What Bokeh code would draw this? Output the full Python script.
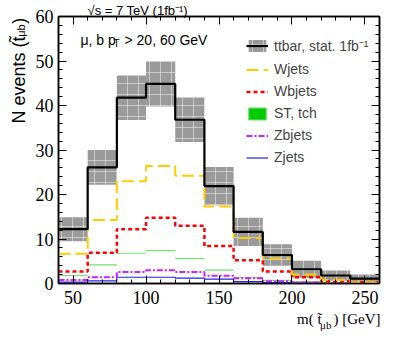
import numpy as np
from bokeh.plotting import figure
from bokeh.models import (ColumnDataSource, Range1d, LinearAxis, Label, Legend,
                          LegendItem, SingleIntervalTicker, CustomJSTickFormatter)
from bokeh.embed import file_html
from bokeh.resources import INLINE

# ---------------- data ----------------
bin_edges = [40, 60, 80, 100, 120, 140, 160, 180, 200, 220, 240, 260]
ttbar     = [12.2, 26.1, 41.75, 44.85, 36.8, 21.9, 11.6, 6.4, 3.2, 1.8, 1.1]
ttbar_err = [2.7, 3.9, 5.0, 5.1, 5.0, 4.3, 3.2, 2.4, 1.9, 1.2, 0.9]
wjets     = [6.7, 14.25, 23.0, 26.4, 24.2, 17.3, 10.2, 5.6, 2.0, 0.8, 0.3]
wbjets    = [2.7, 6.9, 12.2, 14.8, 13.0, 8.4, 5.2, 2.7, 1.4, 0.5, 0.3]
st_tch    = [1.8, 4.2, 6.8, 7.4, 5.6, 3.0, 1.4, 0.7, 0.4, 0.2, 0.1]
zbjets    = [0.8, 1.4, 2.6, 2.95, 2.6, 1.75, 1.2, 0.5, 0.2, 0.1, 0.05]
zjets     = [0.3, 0.6, 1.4, 1.4, 1.2, 1.0, 0.4, 0.2, 0.1, 0.05, 0.0]

legend_labels = ["ttbar, stat. 1fb\u207b\u00b9", "Wjets", "Wbjets", "ST, tch", "Zbjets", "Zjets"]

# ---------------- figure ----------------
p = figure(width=399, height=337, x_range=Range1d(40, 260), y_range=Range1d(0, 60),
           output_backend="svg", toolbar_location=None,
           min_border_left=56, min_border_right=20, min_border_top=16, min_border_bottom=54)
p.xgrid.visible = False
p.ygrid.visible = False
p.outline_line_color = "black"
p.outline_line_width = 1.5
p.background_fill_color = "white"
p.border_fill_color = "white"

def style_axis(ax, interval, show_labels=True):
    ax.ticker = SingleIntervalTicker(interval=interval, num_minor_ticks=5)
    ax.major_tick_in = 8
    ax.major_tick_out = 0
    ax.minor_tick_in = 4
    ax.minor_tick_out = 0
    ax.axis_line_width = 1.5
    ax.axis_line_color = "black"
    ax.major_tick_line_color = "black"
    ax.minor_tick_line_color = "black"
    ax.major_tick_line_width = 1
    ax.minor_tick_line_width = 1
    if show_labels:
        ax.major_label_text_font = "Liberation Serif"
        ax.major_label_text_font_size = "18px"
        ax.major_label_text_color = "black"
    else:
        ax.formatter = CustomJSTickFormatter(code="return ''")
        ax.major_label_text_font_size = "1px"
        ax.major_label_standoff = 0

style_axis(p.xaxis[0], 50)
p.xaxis[0].major_label_standoff = 7
style_axis(p.yaxis[0], 10)
p.yaxis[0].major_label_standoff = 5

top_ax = LinearAxis()
style_axis(top_ax, 50, show_labels=False)
p.add_layout(top_ax, "above")
right_ax = LinearAxis()
style_axis(right_ax, 10, show_labels=False)
p.add_layout(right_ax, "right")

# ---------------- glyphs ----------------
edges = np.array(bin_edges, dtype=float)
left, right = edges[:-1], edges[1:]

def step_y(vals):
    return list(vals) + [vals[-1]]

band_src = ColumnDataSource(dict(left=left, right=right,
                                 bottom=np.array(ttbar) - np.array(ttbar_err),
                                 top=np.array(ttbar) + np.array(ttbar_err)))
band = p.quad(left="left", right="right", bottom="bottom", top="top", source=band_src,
              fill_color="#9a9a9a", line_color=None,
              hatch_pattern="+", hatch_color="white", hatch_alpha=0.45,
              hatch_scale=11, hatch_weight=1)

# ST, tch: horizontal bin levels only (no vertical connectors)
st_src = ColumnDataSource(dict(left=left, right=right, v=st_tch))
r_st = p.quad(left="left", right="right", bottom="v", top="v", source=st_src,
              fill_color="#00cc00", line_color="#77dd77", line_width=1.2)
r_zj = p.step(edges, step_y(zjets), mode="after", line_color="#2222ee", line_width=1.2)
r_zb = p.step(edges, step_y(zbjets), mode="after", line_color="#cc22ff", line_width=2,
              line_dash="6 2 2 2")
r_wb = p.step(edges, step_y(wbjets), mode="after", line_color="#ff0000", line_width=2.5,
              line_dash="4 3")
r_wj = p.step(edges, step_y(wjets), mode="after", line_color="#ffcc00", line_width=2,
              line_dash="12 5")
r_tt = p.step(edges, step_y(ttbar), mode="after", line_color="black", line_width=2.2)

legend = Legend(items=[
    LegendItem(label=legend_labels[0], renderers=[band, r_tt]),
    LegendItem(label=legend_labels[1], renderers=[r_wj]),
    LegendItem(label=legend_labels[2], renderers=[r_wb]),
    LegendItem(label=legend_labels[3], renderers=[r_st]),
    LegendItem(label=legend_labels[4], renderers=[r_zb]),
    LegendItem(label=legend_labels[5], renderers=[r_zj]),
], location=(188, 118), padding=0, spacing=6, glyph_width=22, glyph_height=15,
   label_height=15, label_standoff=6, label_text_font="Liberation Sans",
   label_text_font_size="14px", border_line_alpha=0, background_fill_alpha=0, margin=0)
p.add_layout(legend)

# ---------------- texts ----------------
SANS = "Liberation Sans"
SERIF = "Liberation Serif"

def lab(text, x, y, size, font=SANS, angle=0, align="left", place="center"):
    p.add_layout(Label(x=x, y=y, x_units="screen", y_units="screen", text=text,
                       text_font=font, text_font_size=size, angle=angle,
                       text_align=align, text_baseline="alphabetic", text_color="black"),
                 place)

# selection text (inside frame)
lab("\u03bc, b p", 22, 243.5, "14px")
lab("T", 55, 240.5, "10px")
lab("> 20, 60 GeV", 66, 243.5, "14px")

# texts outside the frame live in side panels (not clipped there)
lab("\u221as = 7 TeV (1fb\u207b\u00b9)", 29, 6.5, "13px", place="above")
lab("N events (t\u0303\u2002\u2009)", 6, 160, "18px", angle=np.pi / 2, place="left")
lab("\u03bcb", 20, 246.7, "11px", angle=np.pi / 2, place="left")
lab("m( t\u0303\u2002\u2009\u200a) [GeV]", 322, 3.3, "15px", font=SERIF, align="right",
    place="below")
lab("\u03bcb", -59.5, -41, "11px", font=SERIF, place="right")

open("out.html", "w").write(file_html(p, INLINE))
